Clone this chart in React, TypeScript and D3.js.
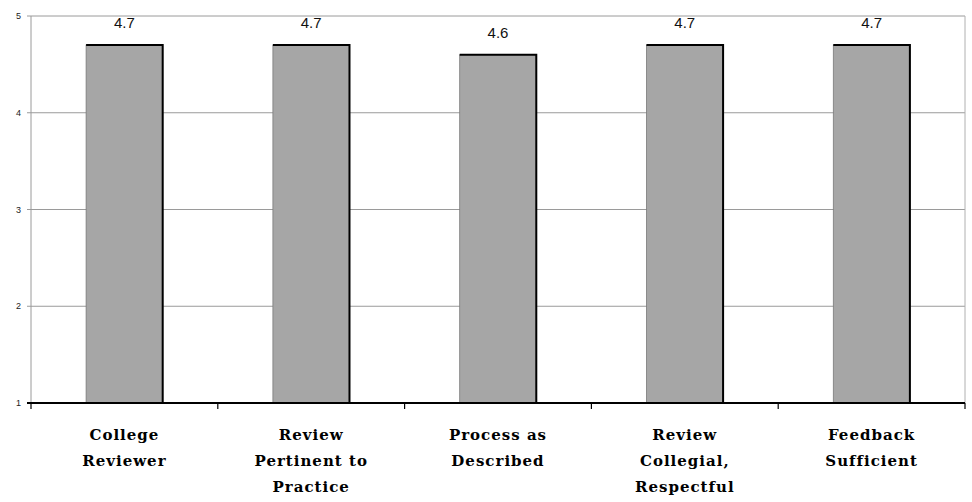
import React, { useEffect, useRef } from "react";
import * as d3 from "d3";

const categories: string[][] = [
  ["College", "Reviewer"],
  ["Review", "Pertinent to", "Practice"],
  ["Process as", "Described"],
  ["Review", "Collegial,", "Respectful"],
  ["Feedback", "Sufficient"],
];
const values: number[] = [4.7, 4.7, 4.6, 4.7, 4.7];
const yTicks: number[] = [1, 2, 3, 4, 5];

const W = 972;
const H = 502;
const margin = { left: 31, right: 7, top: 16, bottom: 99 };
const SERIF = "DejaVu Serif";
const SANS = "Liberation Sans";

export default function App() {
  const ref = useRef<SVGSVGElement>(null);

  useEffect(() => {
    const svg = d3.select(ref.current);
    svg.selectAll("*").remove();

    const x = d3
      .scaleBand<number>()
      .domain(d3.range(values.length))
      .range([margin.left, W - margin.right])
      .paddingInner(0.59)
      .paddingOuter(0.295);
    const y = d3
      .scaleLinear()
      .domain([1, 5])
      .range([H - margin.bottom, margin.top]);

    const step = x.step();
    const x0 = margin.left;
    const x1 = W - margin.right;

    // gridlines
    svg
      .append("g")
      .selectAll("line")
      .data(yTicks.filter((t) => t > 1))
      .join("line")
      .attr("x1", x0 - 4)
      .attr("x2", x1)
      .attr("y1", (d) => y(d))
      .attr("y2", (d) => y(d))
      .attr("stroke", "#9a9a9a")
      .attr("stroke-width", 1);

    // y axis line and right frame
    svg
      .append("line")
      .attr("x1", x0)
      .attr("x2", x0)
      .attr("y1", y(5))
      .attr("y2", y(1))
      .attr("stroke", "#9a9a9a");
    svg
      .append("line")
      .attr("x1", x1)
      .attr("x2", x1)
      .attr("y1", y(5))
      .attr("y2", y(1))
      .attr("stroke", "#b0b0b0");

    // y tick labels
    svg
      .append("g")
      .selectAll("text")
      .data(yTicks)
      .join("text")
      .attr("x", 21)
      .attr("y", (d) => y(d) + 3)
      .attr("text-anchor", "end")
      .attr("font-family", SANS)
      .attr("font-size", 9)
      .attr("fill", "#222")
      .text((d) => String(d));

    // bars
    const bars = svg.append("g").selectAll("g").data(values).join("g");
    bars
      .append("rect")
      .attr("x", (_, i) => x(i)!)
      .attr("y", (d) => y(d))
      .attr("width", x.bandwidth())
      .attr("height", (d) => y(1) - y(d))
      .attr("fill", "#a6a6a6")
      .attr("stroke", "#7a7a7a")
      .attr("stroke-width", 0.8);
    bars
      .append("path")
      .attr("d", (d, i) => {
        const l = x(i)!;
        const r = l + x.bandwidth();
        return `M${l},${y(d)}H${r}V${y(1)}`;
      })
      .attr("fill", "none")
      .attr("stroke", "#000")
      .attr("stroke-width", 2);

    // value labels
    svg
      .append("g")
      .selectAll("text")
      .data(values)
      .join("text")
      .attr("x", (_, i) => x(i)! + x.bandwidth() / 2)
      .attr("y", (d) => y(d) - 17)
      .attr("text-anchor", "middle")
      .attr("font-family", SANS)
      .attr("font-size", 15)
      .attr("fill", "#111")
      .text((d) => d.toFixed(1));

    // x axis
    svg
      .append("line")
      .attr("x1", x0 - 4)
      .attr("x2", x1)
      .attr("y1", y(1))
      .attr("y2", y(1))
      .attr("stroke", "#000")
      .attr("stroke-width", 2);
    svg
      .append("g")
      .selectAll("line")
      .data(d3.range(values.length + 1))
      .join("line")
      .attr("x1", (k) => x0 + k * step)
      .attr("x2", (k) => x0 + k * step)
      .attr("y1", y(1))
      .attr("y2", y(1) + 6)
      .attr("stroke", "#000")
      .attr("stroke-width", 1.2);

    // category labels
    const cat = svg
      .append("g")
      .selectAll("text")
      .data(categories)
      .join("text")
      .attr("x", (_, i) => x(i)! + x.bandwidth() / 2)
      .attr("y", 440)
      .attr("text-anchor", "middle")
      .attr("font-family", SERIF)
      .attr("font-weight", "bold")
      .attr("font-size", 15)
      .attr("letter-spacing", 1)
      .attr("fill", "#000");
    cat
      .selectAll("tspan")
      .data((d) => d)
      .join("tspan")
      .attr("x", function () {
        return (this.parentNode as SVGTextElement).getAttribute("x");
      })
      .attr("dy", (_, j) => (j === 0 ? 0 : 26))
      .text((d) => d);
  }, []);

  return (
    <svg
      ref={ref}
      width={W}
      height={H}
      style={{ position: "absolute", left: 0, top: 0, background: "#fff" }}
    />
  );
}
